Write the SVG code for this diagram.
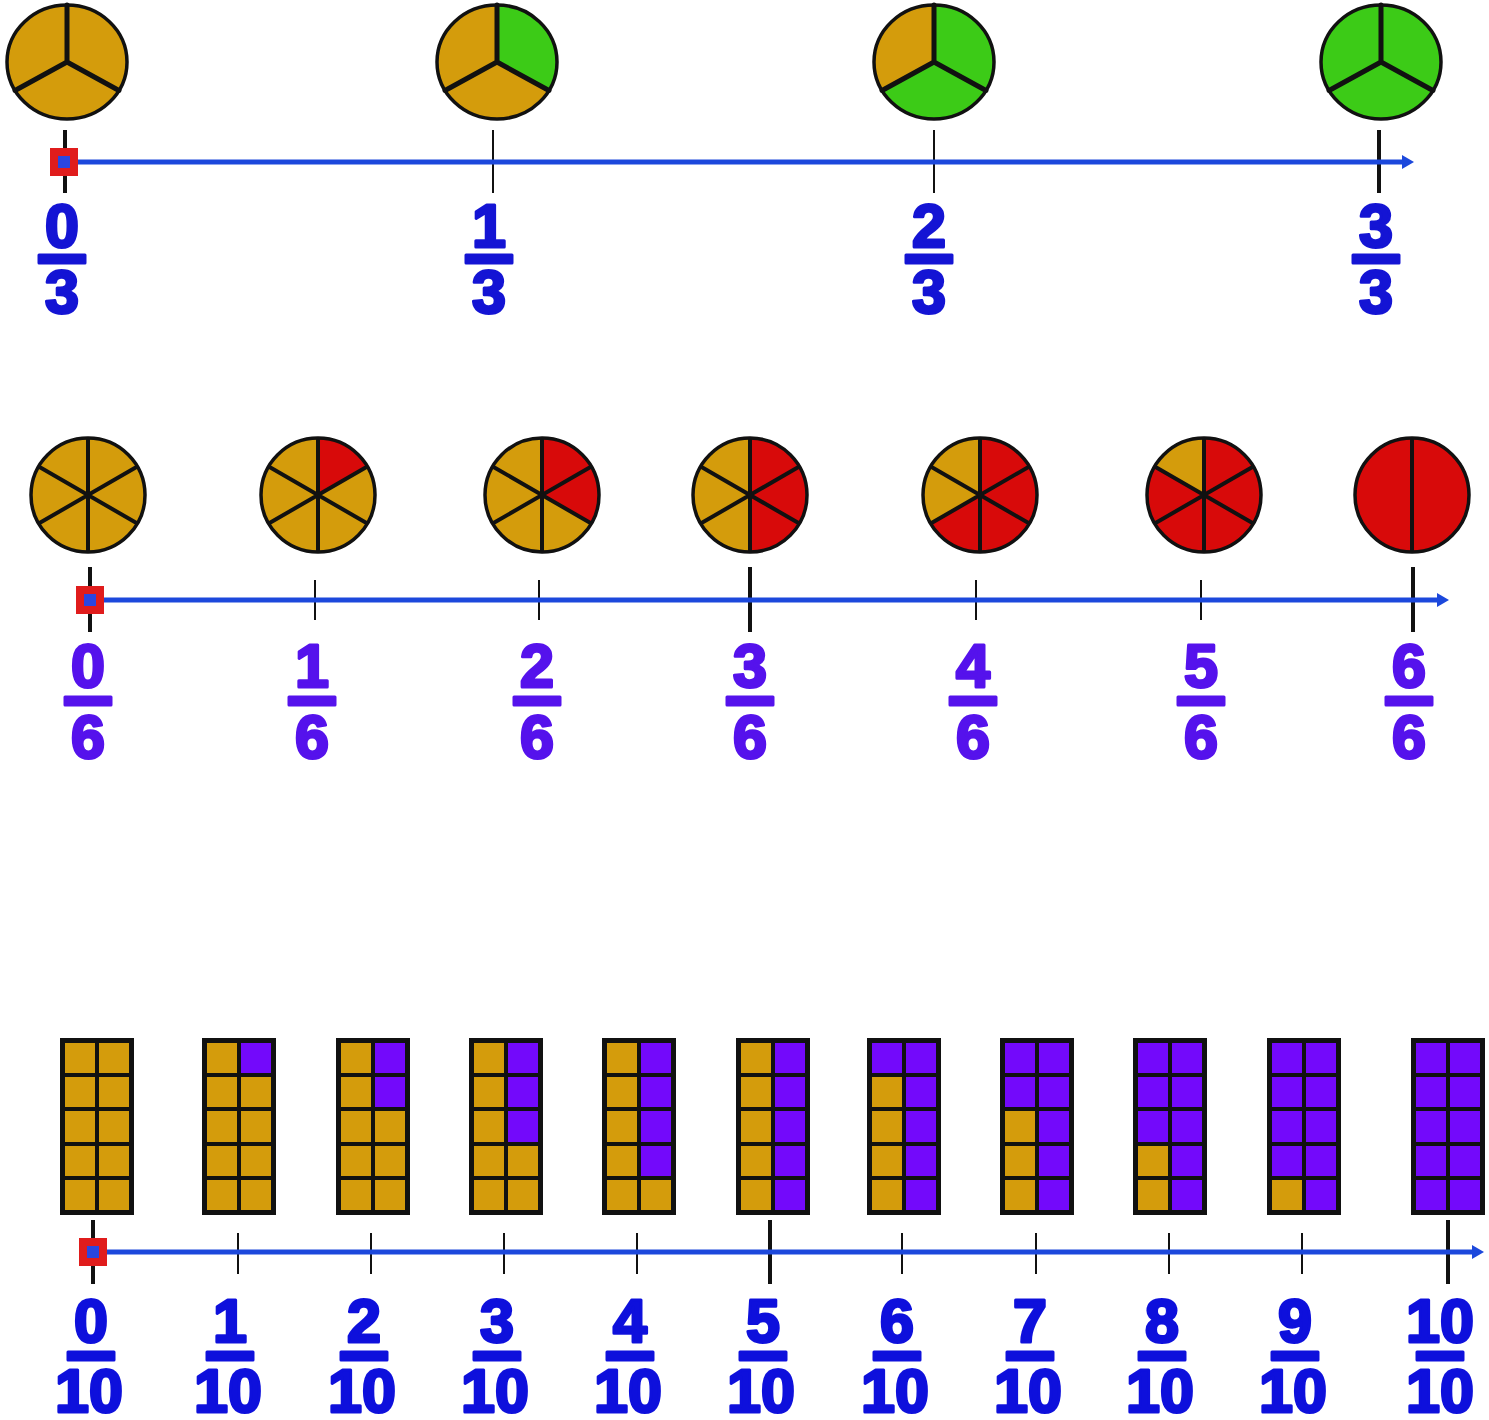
<svg xmlns="http://www.w3.org/2000/svg" xmlns:xlink="http://www.w3.org/1999/xlink" width="1489" height="1420" viewBox="0 0 1489 1420">
<style>
.gold{fill:#d49c0c}
.green{fill:#3ccb17}
.red{fill:#d80a0a}
.purple{fill:#7309fb}
.div{fill:none;stroke:#111;stroke-width:5;stroke-linecap:round}
.div6{fill:none;stroke:#111;stroke-width:4}
.rim{fill:none;stroke:#111;stroke-width:3.5}
.axis{stroke:#1c48dc;stroke-width:5;fill:none}
.head{fill:#1c48dc}
.major{stroke:#111;stroke-width:4}
.minor{stroke:#111;stroke-width:2}
.sq{fill:#e01c1c}
.dot{fill:#2a46e0}
.num{font-family:"Liberation Sans",Arial,sans-serif;font-weight:bold;font-size:61px;text-anchor:middle;stroke-width:3;stroke-linejoin:round}
.b1{fill:#1414d4;stroke:#1414d4}
.b2{fill:#5512ec;stroke:#5512ec}
.b3{fill:#0e10dc;stroke:#0e10dc}
.grid{fill:none;stroke:#111}
</style>
<defs>
<path id="s3a" d="M0,0L0,-57A60,57 0 0 1 51.96,28.5Z"/>
<path id="s3b" d="M0,0L51.96,28.5A60,57 0 0 1 -51.96,28.5Z"/>
<path id="d3" d="M0,0V-57M0,0L51.96,28.5M0,0L-51.96,28.5"/>
<ellipse id="e3" rx="60" ry="57"/>
<circle id="c6" r="57"/>
<path id="d6" d="M0,-57V57M-49.36,-28.5L49.36,28.5M-49.36,28.5L49.36,-28.5"/>
<g id="grid">
<rect class="grid" x="2.5" y="2.5" width="69" height="172" stroke-width="5"/>
<path class="grid" stroke-width="4" d="M37,0V177M0,37H74M0,71H74M0,106H74M0,140H74"/>
</g>
<rect id="bar" x="-23" y="-4" width="46" height="8"/>
</defs>

<!-- Row 1: thirds -->
<g id="pie-0-3" transform="translate(67,62)">
<use href="#e3" class="gold"/><use href="#d3" class="div"/><use href="#e3" class="rim"/>
</g>
<g id="pie-1-3" transform="translate(497,62)">
<use href="#e3" class="gold"/><use href="#s3a" class="green"/><use href="#d3" class="div"/><use href="#e3" class="rim"/>
</g>
<g id="pie-2-3" transform="translate(934,62)">
<use href="#e3" class="gold"/><use href="#s3a" class="green"/><use href="#s3b" class="green"/><use href="#d3" class="div"/><use href="#e3" class="rim"/>
</g>
<g id="pie-3-3" transform="translate(1381,62)">
<use href="#e3" class="green"/><use href="#d3" class="div"/><use href="#e3" class="rim"/>
</g>

<!-- Row 2: sixths -->
<g id="pie-0-6" transform="translate(88,495)">
<use href="#c6" class="gold"/><use href="#d6" class="div6"/><use href="#c6" class="rim"/>
</g>
<g id="pie-1-6" transform="translate(318,495)">
<use href="#c6" class="gold"/><path class="red" d="M0,0L0,-57A57,57 0 0 1 49.36,-28.5Z"/><use href="#d6" class="div6"/><use href="#c6" class="rim"/>
</g>
<g id="pie-2-6" transform="translate(542,495)">
<use href="#c6" class="gold"/><path class="red" d="M0,0L0,-57A57,57 0 0 1 49.36,28.5Z"/><use href="#d6" class="div6"/><use href="#c6" class="rim"/>
</g>
<g id="pie-3-6" transform="translate(750,495)">
<use href="#c6" class="gold"/><path class="red" d="M0,-57A57,57 0 0 1 0,57Z"/><use href="#d6" class="div6"/><use href="#c6" class="rim"/>
</g>
<g id="pie-4-6" transform="translate(980,495)">
<use href="#c6" class="gold"/><path class="red" d="M0,0L0,-57A57,57 0 1 1 -49.36,28.5Z"/><use href="#d6" class="div6"/><use href="#c6" class="rim"/>
</g>
<g id="pie-5-6" transform="translate(1204,495)">
<use href="#c6" class="gold"/><path class="red" d="M0,0L0,-57A57,57 0 1 1 -49.36,-28.5Z"/><use href="#d6" class="div6"/><use href="#c6" class="rim"/>
</g>
<g id="pie-6-6" transform="translate(1412,495)">
<use href="#c6" class="red"/><path class="div6" d="M0,-57V57"/><use href="#c6" class="rim"/>
</g>

<!-- Row 3: tenths -->
<g id="bar-0-10" transform="translate(60,1038)">
<rect class="gold" width="74" height="177"/><use href="#grid"/>
</g>
<g id="bar-1-10" transform="translate(202,1038)">
<rect class="gold" width="74" height="177"/><rect class="purple" x="37" width="37" height="37"/><use href="#grid"/>
</g>
<g id="bar-2-10" transform="translate(336,1038)">
<rect class="gold" width="74" height="177"/><rect class="purple" x="37" width="37" height="71"/><use href="#grid"/>
</g>
<g id="bar-3-10" transform="translate(469,1038)">
<rect class="gold" width="74" height="177"/><rect class="purple" x="37" width="37" height="106"/><use href="#grid"/>
</g>
<g id="bar-4-10" transform="translate(602,1038)">
<rect class="gold" width="74" height="177"/><rect class="purple" x="37" width="37" height="140"/><use href="#grid"/>
</g>
<g id="bar-5-10" transform="translate(736,1038)">
<rect class="gold" width="74" height="177"/><rect class="purple" x="37" width="37" height="177"/><use href="#grid"/>
</g>
<g id="bar-6-10" transform="translate(867,1038)">
<rect class="gold" width="74" height="177"/><rect class="purple" x="37" width="37" height="177"/><rect class="purple" width="37" height="37"/><use href="#grid"/>
</g>
<g id="bar-7-10" transform="translate(1000,1038)">
<rect class="gold" width="74" height="177"/><rect class="purple" x="37" width="37" height="177"/><rect class="purple" width="37" height="71"/><use href="#grid"/>
</g>
<g id="bar-8-10" transform="translate(1133,1038)">
<rect class="gold" width="74" height="177"/><rect class="purple" x="37" width="37" height="177"/><rect class="purple" width="37" height="106"/><use href="#grid"/>
</g>
<g id="bar-9-10" transform="translate(1267,1038)">
<rect class="gold" width="74" height="177"/><rect class="purple" x="37" width="37" height="177"/><rect class="purple" width="37" height="140"/><use href="#grid"/>
</g>
<g id="bar-10-10" transform="translate(1411,1038)">
<rect class="purple" width="74" height="177"/><use href="#grid"/>
</g>

<!-- Number lines (connectors) -->
<g id="connectors">
<g id="line-thirds">
<line class="major" x1="65" y1="130" x2="65" y2="193"/>
<line class="minor" x1="493" y1="130" x2="493" y2="193"/>
<line class="minor" x1="934" y1="130" x2="934" y2="193"/>
<line class="major" x1="1379" y1="130" x2="1379" y2="193"/>
<line class="axis" x1="64" y1="162" x2="1404" y2="162"/>
<polygon class="head" points="1402,155 1414,162 1402,169"/>
<rect class="sq" x="50" y="148" width="28" height="28"/>
<rect class="dot" x="58" y="156" width="12" height="12"/>
</g>
<g id="line-sixths">
<line class="major" x1="90" y1="567" x2="90" y2="632"/>
<line class="minor" x1="315" y1="580" x2="315" y2="620"/>
<line class="minor" x1="539" y1="580" x2="539" y2="620"/>
<line class="major" x1="750" y1="567" x2="750" y2="632"/>
<line class="minor" x1="976" y1="580" x2="976" y2="620"/>
<line class="minor" x1="1201" y1="580" x2="1201" y2="620"/>
<line class="major" x1="1413" y1="567" x2="1413" y2="632"/>
<line class="axis" x1="90" y1="600" x2="1440" y2="600"/>
<polygon class="head" points="1437,593 1449,600 1437,607"/>
<rect class="sq" x="76" y="586" width="28" height="28"/>
<rect class="dot" x="84" y="594" width="12" height="12"/>
</g>
<g id="line-tenths">
<line class="major" x1="93" y1="1220" x2="93" y2="1284"/>
<line class="minor" x1="238" y1="1233" x2="238" y2="1274"/>
<line class="minor" x1="371" y1="1233" x2="371" y2="1274"/>
<line class="minor" x1="504" y1="1233" x2="504" y2="1274"/>
<line class="minor" x1="637" y1="1233" x2="637" y2="1274"/>
<line class="major" x1="770" y1="1220" x2="770" y2="1284"/>
<line class="minor" x1="902" y1="1233" x2="902" y2="1274"/>
<line class="minor" x1="1036" y1="1233" x2="1036" y2="1274"/>
<line class="minor" x1="1169" y1="1233" x2="1169" y2="1274"/>
<line class="minor" x1="1302" y1="1233" x2="1302" y2="1274"/>
<line class="major" x1="1448" y1="1220" x2="1448" y2="1284"/>
<line class="axis" x1="93" y1="1252" x2="1474" y2="1252"/>
<polygon class="head" points="1472,1245 1484,1252 1472,1259"/>
<rect class="sq" x="79" y="1238" width="28" height="28"/>
<rect class="dot" x="87" y="1246" width="12" height="12"/>
</g>
</g>

<!-- Labels -->
<g id="labels-thirds" class="num b1">
<g id="lbl-0-3"><text x="62" y="247">0</text><use href="#bar" x="62" y="259"/><text x="62" y="313">3</text></g>
<g id="lbl-1-3"><text x="489" y="247">1</text><use href="#bar" x="489" y="259"/><text x="489" y="313">3</text></g>
<g id="lbl-2-3"><text x="929" y="247">2</text><use href="#bar" x="929" y="259"/><text x="929" y="313">3</text></g>
<g id="lbl-3-3"><text x="1376" y="247">3</text><use href="#bar" x="1376" y="259"/><text x="1376" y="313">3</text></g>
</g>
<g id="labels-sixths" class="num b2">
<g id="lbl-0-6"><text x="88" y="687">0</text><use href="#bar" x="88" y="701"/><text x="88" y="758">6</text></g>
<g id="lbl-1-6"><text x="312" y="687">1</text><use href="#bar" x="312" y="701"/><text x="312" y="758">6</text></g>
<g id="lbl-2-6"><text x="537" y="687">2</text><use href="#bar" x="537" y="701"/><text x="537" y="758">6</text></g>
<g id="lbl-3-6"><text x="750" y="687">3</text><use href="#bar" x="750" y="701"/><text x="750" y="758">6</text></g>
<g id="lbl-4-6"><text x="973" y="687">4</text><use href="#bar" x="973" y="701"/><text x="973" y="758">6</text></g>
<g id="lbl-5-6"><text x="1201" y="687">5</text><use href="#bar" x="1201" y="701"/><text x="1201" y="758">6</text></g>
<g id="lbl-6-6"><text x="1409" y="687">6</text><use href="#bar" x="1409" y="701"/><text x="1409" y="758">6</text></g>
</g>
<g id="labels-tenths" class="num b3">
<g id="lbl-0-10"><text x="91" y="1342">0</text><use href="#bar" x="91" y="1356"/><text x="89" y="1412">10</text></g>
<g id="lbl-1-10"><text x="230" y="1342">1</text><use href="#bar" x="230" y="1356"/><text x="228" y="1412">10</text></g>
<g id="lbl-2-10"><text x="364" y="1342">2</text><use href="#bar" x="364" y="1356"/><text x="362" y="1412">10</text></g>
<g id="lbl-3-10"><text x="497" y="1342">3</text><use href="#bar" x="497" y="1356"/><text x="495" y="1412">10</text></g>
<g id="lbl-4-10"><text x="630" y="1342">4</text><use href="#bar" x="630" y="1356"/><text x="628" y="1412">10</text></g>
<g id="lbl-5-10"><text x="763" y="1342">5</text><use href="#bar" x="763" y="1356"/><text x="761" y="1412">10</text></g>
<g id="lbl-6-10"><text x="897" y="1342">6</text><use href="#bar" x="897" y="1356"/><text x="895" y="1412">10</text></g>
<g id="lbl-7-10"><text x="1030" y="1342">7</text><use href="#bar" x="1030" y="1356"/><text x="1028" y="1412">10</text></g>
<g id="lbl-8-10"><text x="1162" y="1342">8</text><use href="#bar" x="1162" y="1356"/><text x="1160" y="1412">10</text></g>
<g id="lbl-9-10"><text x="1295" y="1342">9</text><use href="#bar" x="1295" y="1356"/><text x="1293" y="1412">10</text></g>
<g id="lbl-10-10"><text x="1440" y="1342">10</text><use href="#bar" x="1440" y="1356"/><text x="1440" y="1412">10</text></g>
</g>
</svg>
